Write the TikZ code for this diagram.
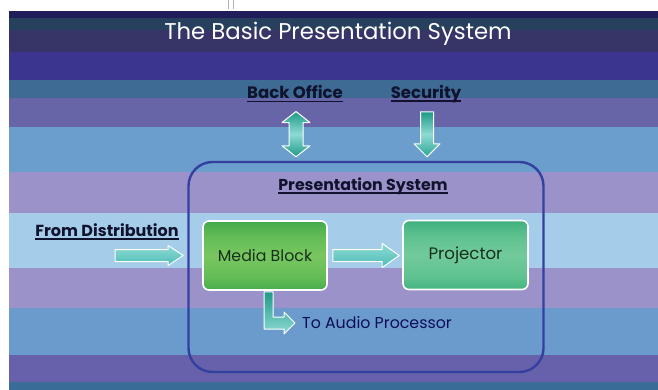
\documentclass[tikz,border=0pt]{standalone}
\usepackage{fontspec}
\setmainfont{Poppins}
\usetikzlibrary{calc}

% background band colours
\definecolor{bA}{HTML}{201E5A}
\definecolor{bB}{HTML}{27405E}
\definecolor{bC}{HTML}{373468}
\definecolor{bD}{HTML}{3B3590}
\definecolor{bE}{HTML}{3D6B94}
\definecolor{bF}{HTML}{6864A8}
\definecolor{bG}{HTML}{6B9DCD}
\definecolor{bH}{HTML}{9A92C8}
\definecolor{bI}{HTML}{A5CCE9}
\definecolor{bJ}{HTML}{6B9BCC}
\definecolor{bK}{HTML}{6661AA}
\definecolor{bL}{HTML}{3A6C98}
% box and arrow colours
\definecolor{frame}{HTML}{3440A0}
\definecolor{ink}{HTML}{10122E}
\definecolor{boxink}{HTML}{17301C}
\definecolor{tealD}{HTML}{1E9A88}
\definecolor{tealM}{HTML}{4DBDB6}
\definecolor{tealL}{HTML}{8EDAD4}
% green block bands
\definecolor{mA}{HTML}{107A34}
\definecolor{mB}{HTML}{1E903E}
\definecolor{mC}{HTML}{3FA84A}
\definecolor{mD}{HTML}{62BC56}
\definecolor{mE}{HTML}{78C660}
\definecolor{pA}{HTML}{0C6E50}
\definecolor{pB}{HTML}{1E9066}
\definecolor{pC}{HTML}{3CAE7C}
\definecolor{pD}{HTML}{5EC290}
\definecolor{pE}{HTML}{72CA9C}

\pgfdeclareverticalshading{mediagreen}{100bp}{%
  color(0bp)=(mA); color(10bp)=(mB); color(22bp)=(mC);
  color(34bp)=(mD); color(50bp)=(mE); color(64bp)=(mD);
  color(76bp)=(mC); color(88bp)=(mB); color(100bp)=(mA)}
\pgfdeclareverticalshading{projgreen}{100bp}{%
  color(0bp)=(pA); color(10bp)=(pB); color(22bp)=(pC);
  color(34bp)=(pD); color(50bp)=(pE); color(64bp)=(pD);
  color(76bp)=(pC); color(88bp)=(pB); color(100bp)=(pA)}

% underlined bold label text
\newcommand\ulabel[1]{\setbox0\hbox{\bfseries #1}\leavevmode
  \rlap{\rule[-3.4pt]{\wd0}{1.7pt}}\box0}

\tikzset{
  band/.style={fill=#1, draw=none},
  labeltext/.style={text=ink, inner sep=1pt, font=\fontsize{16}{18}\selectfont},
  block/.style={draw=white, line width=1.6pt, rounded corners=6pt,
    minimum height=69pt, inner sep=0pt, text=boxink},
  fatarrow/.style={draw=white, line width=1pt, line join=round,
    top color=tealL, bottom color=tealM},
}

\begin{document}
\begin{tikzpicture}[x=1pt, y=-1pt]
\useasboundingbox (0,0) rectangle (658,390);
\fill[white] (0,0) rectangle (658,390);

% horizontal colour bands of the slide
\fill[band=bA] (9,11) rectangle (658,18.5);
\fill[band=bB] (9,18) rectangle (658,31);
\fill[band=bC] (9,30.5) rectangle (658,52.5);
\fill[band=bD] (9,52) rectangle (658,80.5);
\fill[band=bE] (9,80) rectangle (658,98.5);
\fill[band=bF] (9,98) rectangle (658,127.5);
\fill[band=bG] (9,127) rectangle (658,172.5);
\fill[band=bH] (9,172) rectangle (658,213.5);
\fill[band=bI] (9,213) rectangle (658,268.5);
\fill[band=bH] (9,268) rectangle (658,308.5);
\fill[band=bJ] (9,308) rectangle (658,355.5);
\fill[band=bK] (9,355) rectangle (658,382.5);
\fill[band=bL] (9,382) rectangle (658,390);

% two small ticks above the slide
\draw[gray!60, line width=0.8pt] (228,0) -- (228,9) (233,0) -- (233,9);

% title
\node[text=white, font=\fontsize{22.8}{26}\selectfont] (title) at (338,34)
  {The Basic Presentation System};

% outer presentation system frame
\node[draw=frame, line width=2.4pt, rounded corners=24pt,
  minimum width=355pt, minimum height=210pt] (ps) at (366,267) {};
\node[labeltext, font=\fontsize{15.8}{18}\selectfont] (pstitle) at (363,186)
  {\ulabel{Presentation System}};

% outside labels
\node[labeltext, font=\fontsize{16.5}{18}\selectfont] (bo) at (295,94) {\ulabel{Back Office}};
\node[labeltext, font=\fontsize{16.5}{18}\selectfont] (sec) at (426,94) {\ulabel{Security}};
\node[labeltext] (fd) at (107,232) {\ulabel{From Distribution}};

% processing blocks
\node[block, minimum width=124pt, shading=mediagreen,
  font=\fontsize{15.8}{18}\selectfont] (mb) at (265,255.5) {Media Block};
\node[block, minimum width=125pt, shading=projgreen,
  font=\fontsize{16.6}{18}\selectfont] (pj) at (465.5,255) {Projector};

% audio output label
\node[text=ink!80!blue, inner sep=1pt, font=\fontsize{15.8}{18}\selectfont,
  anchor=west] (au) at (301,323) {To Audio Processor};

% From Distribution -> Media Block
\coordinate (fdstart) at (115,256);
\path[fatarrow] let \p1=(fdstart), \p2=($(mb.west)+(-19,0)$) in
  (\x1,\y2+6pt) -- (\x2-15pt,\y2+6pt) -- (\x2-15pt,\y2+10pt) -- (\x2,\y2)
  -- (\x2-15pt,\y2-10pt) -- (\x2-15pt,\y2-6pt) -- (\x1,\y2-6pt) -- cycle;

% Media Block -> Projector
\path[fatarrow] let \p1=($(mb.east)+(5,0)$), \p2=($(pj.west)+(-3,0)$) in
  (\x1,\y1+6pt) -- (\x2-17pt,\y1+6pt) -- (\x2-17pt,\y1+12pt) -- (\x2,\y1)
  -- (\x2-17pt,\y1-12pt) -- (\x2-17pt,\y1-6pt) -- (\x1,\y1-6pt) -- cycle;

% Back Office <-> Presentation System
\path[fatarrow, top color=tealD, bottom color=tealD, middle color=tealL]
  let \p1=($(bo.south)+(1,8)$), \p2=($(ps.north)+(0,-4)$) in
  (\x1,\y1) -- (\x1+14pt,\y1-11pt) -- (\x1+7pt,\y1-11pt) -- (\x1+7pt,\y2+11pt)
  -- (\x1+14pt,\y2+11pt) -- (\x1,\y2) -- (\x1-14pt,\y2+11pt) -- (\x1-7pt,\y2+11pt)
  -- (\x1-7pt,\y1-11pt) -- (\x1-14pt,\y1-11pt) -- cycle;

% Security -> Presentation System
\path[fatarrow, top color=tealD, bottom color=tealD!70!tealM, middle color=tealL]
  let \p1=($(sec.south)+(1,8)$), \p2=($(ps.north)+(0,-4)$) in
  (\x1-6.5pt,\y1) -- (\x1+6.5pt,\y1) -- (\x1+6.5pt,\y2+13pt) -- (\x1+13pt,\y2+13pt)
  -- (\x1,\y2) -- (\x1-13pt,\y2+13pt) -- (\x1-6.5pt,\y2+13pt) -- cycle;

% Media Block -> To Audio Processor
\path[fatarrow, top color=tealD, bottom color=tealL]
  let \p1=($(mb.south)+(3.5,1)$), \p2=($(au.west)+(-6,0)$) in
  (\x1-4.5pt,\y1) -- (\x1+4.5pt,\y1) -- (\x1+4.5pt,\y2+6pt) -- (\x2-11pt,\y2+6pt)
  -- (\x2-11pt,\y2+11pt) -- (\x2,\y2) -- (\x2-11pt,\y2-11pt) -- (\x2-11pt,\y2-6pt)
  -- (\x1-4.5pt,\y2-6pt) -- cycle;
\end{tikzpicture}
\end{document}
